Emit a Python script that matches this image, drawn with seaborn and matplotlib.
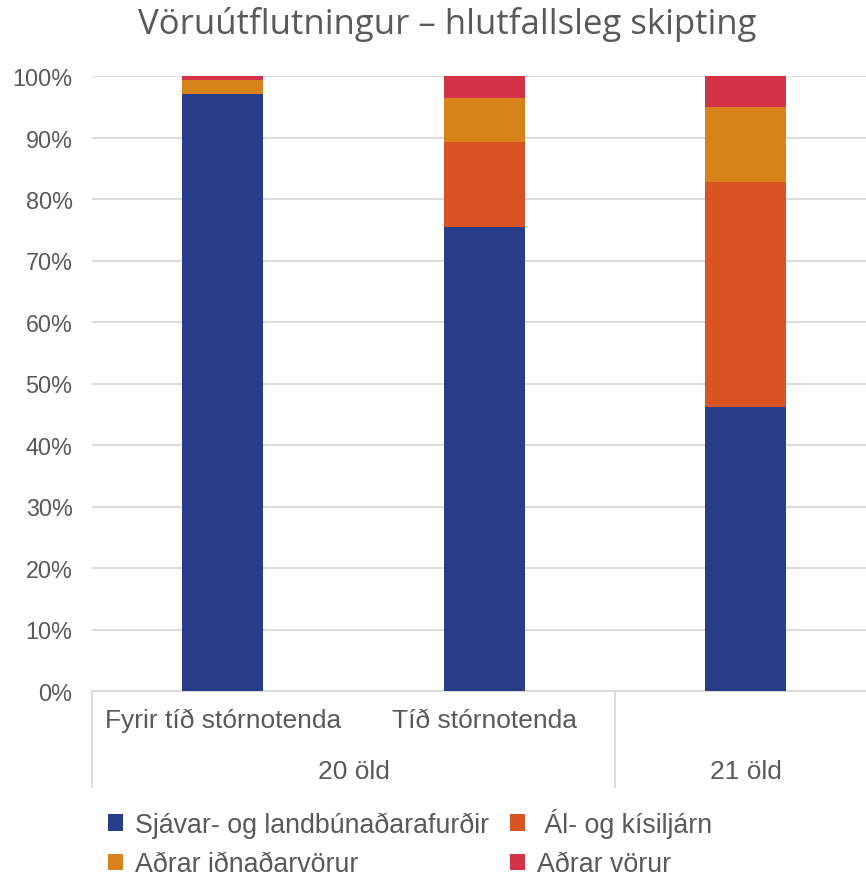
import pandas as pd
import matplotlib.pyplot as plt
import seaborn as sns
from matplotlib.patches import Patch
from matplotlib.ticker import PercentFormatter

# Data (share of merchandise exports, %)
periods = ['Fyrir tíð stórnotenda', 'Tíð stórnotenda', '']
centuries = ['20 öld', '21 öld']
series = ['Sjávar- og landbúnaðarafurðir', 'Ál- og kísiljárn',
          'Aðrar iðnaðarvörur', 'Aðrar vörur']
sjavar = [97.0, 75.4, 46.2]
al = [0.0, 13.8, 36.5]
idnadur = [2.4, 7.3, 12.3]
adrar = [0.6, 3.5, 5.0]
colors = ['#283D87', '#DA5325', '#D7821B', '#D23347']

df = pd.DataFrame({'period': ['p0', 'p1', 'p2'],
                   'Sjávar': sjavar, 'Ál': al, 'Iðn': idnadur, 'Aðrar': adrar})
cols = ['Sjávar', 'Ál', 'Iðn', 'Aðrar']
cum = df[cols].cumsum(axis=1) / 100

sns.set_style('white')
plt.rcParams['font.family'] = ['Liberation Sans', 'DejaVu Sans']
grey = '#595959'

fig = plt.figure(figsize=(8.66, 8.79), dpi=100)
ax = fig.add_axes([92 / 866, 187 / 879, 774 / 866, 615 / 879])

# stacked bars: draw cumulative totals from the top layer down
for col, color in reversed(list(zip(cols, colors))):
    sns.barplot(x=df['period'], y=cum[col], color=color, width=0.31,
                saturation=1, linewidth=0, ax=ax, zorder=3)

ax.set_xlim(-0.5, 2.46)
ax.set_ylim(0, 1)
ax.yaxis.set_major_locator(plt.MultipleLocator(0.1))
ax.yaxis.set_major_formatter(PercentFormatter(1, decimals=0))
ax.grid(axis='y', color='#d9d9d9', linewidth=1.3, zorder=0)
for s in ['top', 'right', 'left']:
    ax.spines[s].set_visible(False)
ax.spines['bottom'].set_color('#d9d9d9')
ax.spines['bottom'].set_linewidth(1.3)
ax.tick_params(axis='y', length=0, pad=14, labelsize=16.8, labelcolor=grey)
ax.set_xticks(range(len(periods)))
ax.set_xticklabels(periods)
ax.tick_params(axis='x', length=0, pad=12, labelsize=19, labelcolor=grey)
ax.set_xlabel('')
ax.set_ylabel('')

# second level of the category axis
trans = ax.get_xaxis_transform()
for x in [-0.5, 1.5]:
    ax.plot([x, x], [0, -0.156], transform=trans, color='#d9d9d9',
            linewidth=1.3, clip_on=False)
ax.text(0.5, -0.13, centuries[0], transform=trans, ha='center', va='center',
        fontsize=19, color=grey)
ax.text(2, -0.13, centuries[1], transform=trans, ha='center', va='center',
        fontsize=19, color=grey)

fig.text(447 / 866, 1 - 25 / 879, 'Vöruútflutningur – hlutfallsleg skipting',
         ha='center', va='center', fontsize=25, color=grey,
         family=['Open Sans', 'DejaVu Sans'])

labels = [series[0], series[2], ' ' + series[1], series[3]]
handle_colors = [colors[0], colors[2], colors[1], colors[3]]
handles = [Patch(facecolor=c, edgecolor='none') for c in handle_colors]
fig.legend(handles, labels, ncol=2, loc='upper left',
           bbox_to_anchor=(108 / 866, 1 - 809 / 879), frameon=False,
           fontsize=19.3, labelcolor=grey, handlelength=0.55, handleheight=0.55,
           handletextpad=0.45, columnspacing=0.8, labelspacing=0.5,
           borderpad=0, borderaxespad=0)

fig.savefig('out.png', dpi=100)
